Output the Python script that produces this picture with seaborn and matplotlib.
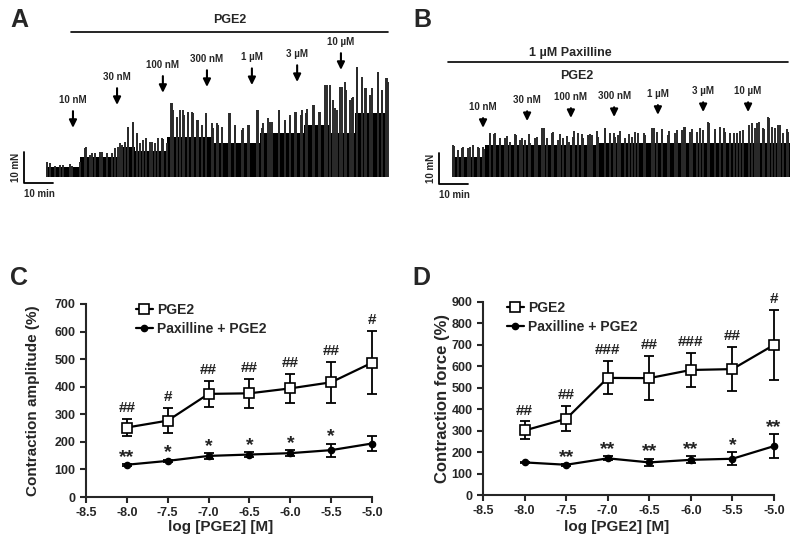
import numpy as np
import pandas as pd
import matplotlib
matplotlib.use("Agg")
import matplotlib.pyplot as plt
import seaborn as sns

# ---- data ----
doses = ["10 nM", "30 nM", "100 nM", "300 nM", "1 \u00b5M", "3 \u00b5M", "10 \u00b5M"]

# panel A trace (time in min, force in mN)
a_body_t = [0, 11.7, 25.5, 30.7, 41.6, 58, 73.8, 89, 98, 106.6, 118]
a_body_f = [2.7, 5.9, 9.1, 7.8, 12.4, 10.3, 13.5, 16, 13.5, 20, 20]
a_spike_t = [1.4, 4.8, 8.3, 11.7, 13.4, 15.7, 18.6, 20.9, 23.8, 25.5, 28.4, 30.1, 31.3,
             33.6, 36.4, 39.9, 41.6, 43.3, 45.1, 47.1, 49.1, 50.2, 52.5, 55.1, 57.7,
             59.4, 63.2, 65.2, 68.0, 70.1, 72.6, 74.9, 77.2, 80.5, 82.4, 84.1, 85.9,
             88.2, 89.7, 92.2, 94.3, 96.2, 97.9, 99.7, 101.4, 103.1, 104.8, 105.7,
             107.1, 108.9, 110.3, 112.3, 114.4, 115.7, 117.5,
             0.2, 3.1, 6.0, 8.9, 13.8, 15.2, 16.9, 19.2, 20.9, 22.7, 24.9, 26.1, 27.2,
             28.4, 29.9, 31.3, 32.4, 34.5, 35.9, 37.6, 38.7, 40.5, 41.6, 43.0, 43.9,
             45.1, 46.2, 47.6, 49.1, 50.6, 52.0, 53.7, 55.1, 57.1,
             58.9, 60.6, 63.4, 65.2, 67.5, 69.8, 73.0, 74.4, 76.4, 77.8, 80.3, 82.4,
             84.1, 86.2, 87.9, 89.9, 92.5, 94.5, 96.8, 97.9, 99.1, 100.2, 102.0, 103.3,
             105.4, 107.1, 108.9, 110.0, 111.7, 114.4, 115.8, 117.1, 117.8]
a_spike_f = [3.8, 3.2, 3.5, 4.3, 8.8, 7.0, 7.5, 7.0, 8.6, 10.4, 15.6, 17.2, 13.4,
             11.3, 10.8, 11.8, 10.2, 23.1, 18.8, 21.0, 19.9, 20.4, 17.7, 19.9, 15.1,
             16.1, 19.9, 15.6, 15.1, 16.1, 21.0, 16.7, 17.2, 21.0, 17.7, 19.4, 20.4,
             21.0, 19.9, 22.6, 20.4, 29.0, 24.2, 21.5, 28.3, 30.1, 24.2, 25.3,
             34.9, 30.6, 28.0, 28.0, 33.3, 27.4, 31.2,
             4.3, 2.9, 3.2, 2.9, 8.9, 6.5, 7.0, 7.5, 5.9, 7.0, 8.9, 9.7, 10.8,
             15.6, 16.9, 12.9, 10.2, 11.8, 10.8, 10.2, 11.8, 11.5, 7.0, 23.1, 21.0,
             18.3, 21.0, 19.4, 20.4, 19.9, 17.7, 16.1, 19.4, 16.7,
             16.7, 15.6, 19.9, 16.1, 14.5, 16.1, 21.0, 15.1, 18.3, 17.2, 21.0, 17.2,
             18.8, 20.4, 19.4, 21.2, 22.6, 20.4, 29.0, 29.0, 24.2, 21.0, 28.5, 27.4,
             24.7, 34.9, 31.7, 28.0, 25.8, 33.3, 27.4, 31.2, 30.1]
a_dose_t = [9.3, 24.5, 40.3, 55.5, 71.0, 86.6, 101.7]
a_dose_tip = [15.2, 22.6, 26.5, 28.4, 29.0, 30.0, 33.9]

# panel B trace
b_body_t = [0, 11.5, 50, 116.7]
b_body_f = [5.9, 9.6, 10.4, 10.4]
b_spike_t = [0.6, 3.4, 6.3, 9.2, 10.9, 13.0, 14.4, 16.7, 19.0, 21.8, 24.1, 26.4, 29.3,
             31.8, 34.5, 37.4, 39.7, 42.0, 44.8, 47.7, 50.0, 52.9, 55.7, 58.0, 60.9,
             63.2, 66.1, 69.5, 72.4, 74.7, 77.6, 80.1, 82.8, 85.6, 88.5, 90.8, 93.7,
             97.1, 99.4, 102.3, 105.2, 107.5, 109.2, 111.5, 113.2, 115.5,
             0.4, 2.2, 3.9, 5.6, 7.4, 9.1, 10.8, 13.1, 14.8, 16.6, 18.3, 20.0, 22.0,
             23.4, 25.2, 26.9, 28.6, 31.1, 32.6, 34.9, 36.7, 38.4, 40.3, 41.8, 43.6,
             45.3, 47.0, 48.4, 50.5, 52.8, 54.5, 56.2,
             57.4, 59.7, 62.0, 64.3, 66.6, 68.9, 70.6, 72.3, 74.6, 76.9, 79.2, 80.3,
             82.1, 84.4, 86.7, 88.4, 90.7, 92.4, 94.1, 95.9, 98.2, 100.4, 103.3, 104.5,
             105.9, 107.3, 108.9, 110.2, 112.5, 114.3, 116.0]
b_spike_f = [9.4, 8.8, 9.0, 8.8, 8.3, 13.7, 13.1, 12.0, 12.6, 13.1, 12.0, 13.1, 12.3,
             15.1, 13.7, 13.1, 12.6, 14.2, 13.1, 13.3, 14.2, 15.1, 13.7, 14.2, 13.3,
             14.0, 13.7, 15.3, 14.7, 14.2, 14.4, 15.5, 14.7, 15.3, 16.9, 14.7, 15.3,
             13.7, 14.2, 16.1, 16.9, 14.7, 18.3, 15.3, 16.1, 14.7,
             9.7, 8.1, 9.1, 8.6, 9.7, 9.1, 9.1, 12.9, 13.4, 10.8, 11.8, 10.8, 12.9,
             11.3, 11.3, 10.2, 11.8, 15.1, 11.8, 14.0, 11.3, 11.8, 10.8, 12.4, 13.4,
             11.8, 12.9, 12.9, 12.4, 15.1, 13.4, 12.4,
             12.9, 11.8, 12.4, 13.4, 12.9, 15.1, 14.0, 12.9, 12.9, 13.4, 14.5, 15.6,
             14.0, 14.0, 14.5, 17.2, 14.0, 15.6, 14.0, 13.4, 13.4, 14.5, 16.7, 15.1,
             17.2, 15.1, 18.8, 15.6, 16.1, 13.4, 14.0]
b_dose_t = [10.7, 25.9, 41.0, 55.9, 71.0, 86.6, 102.1]
b_dose_tip = [15.2, 17.4, 18.4, 18.7, 19.4, 20.3, 20.3]

# panels C / D
logc = [-8.0, -7.5, -7.0, -6.5, -6.0, -5.5, -5.0]
amp_pge2 = [252, 277, 374, 376, 394, 416, 487]
amp_pge2_err = [30, 46, 46, 53, 52, 75, 114]
amp_pax = [117, 131, 149, 154, 159, 170, 194]
amp_pax_err = [3, 5, 10, 8, 10, 24, 26]
amp_pge2_sig = ["##", "#", "##", "##", "##", "##", "#"]
amp_pax_sig = ["**", "*", "*", "*", "*", "*", ""]

force_pge2 = [301, 355, 546, 545, 583, 587, 700]
force_pge2_err = [42, 58, 77, 104, 81, 102, 163]
force_pax = [152, 141, 171, 152, 164, 169, 228]
force_pax_err = [3, 5, 10, 18, 17, 30, 56]
force_pge2_sig = ["##", "##", "###", "##", "###", "##", "#"]
force_pax_sig = ["", "**", "**", "**", "**", "*", "**"]

sns.set_style("ticks")
plt.rcParams["font.family"] = ["Liberation Sans", "DejaVu Sans"]
plt.rcParams["font.weight"] = "bold"
plt.rcParams["axes.labelweight"] = "bold"
plt.rcParams["axes.unicode_minus"] = False

W, H = 800, 537
fig = plt.figure(figsize=(8, 5.37), dpi=100)


def px_axes(x0, y0, x1, y1):
    return fig.add_axes([x0 / W, 1 - y1 / H, (x1 - x0) / W, (y1 - y0) / H])


def trace_panel(ax, x_start, body_t, body_f, spike_t, spike_f, dose_t, dose_tip, lab_off):
    # 2.9 px per min, 3.1 px per mN, baseline at y=175 px
    x0, x1 = ax.get_position().x0 * W, ax.get_position().x1 * W
    ax.set_xlim((x0 - x_start) / 2.9, (x1 - x_start) / 2.9)
    ax.set_ylim((175 - 200) / 3.1, 175 / 3.1)
    ax.axis("off")
    ax.vlines(spike_t, -0.6, spike_f, color="#2b2b2b", lw=1.4)
    ax.fill_between(body_t, -0.6, body_f, step="post", color="black", lw=0)
    for t, tip, d in zip(dose_t, dose_tip, doses):
        ax.annotate(d, xy=(t, tip), xytext=(0, lab_off), textcoords="offset points",
                    ha="center", va="center", fontsize=7,
                    arrowprops=dict(arrowstyle="-|>,head_width=0.22,head_length=0.45",
                                    color="black", lw=1.5, shrinkA=2, shrinkB=0,
                                    mutation_scale=10))


def scale_bar(ax, t0, f0):
    ax.plot([t0, t0, t0 + 10], [f0 + 10, f0, f0], color="black", lw=1.3, clip_on=False)
    ax.text(t0 - 2.7, f0 + 5, "10 mN", rotation=90, ha="center", va="center", fontsize=7)
    ax.text(t0, f0 - 1.8, "10 min", ha="left", va="top", fontsize=7)


# ---- A ----
axA = px_axes(0, 0, 400, 200)
trace_panel(axA, 46, a_body_t, a_body_f, a_spike_t, a_spike_f, a_dose_t, a_dose_tip, 20)
scale_bar(axA, -7.6, -2.6)
axA.plot([8.6, 117.9], [46.1, 46.1], color="black", lw=1.2)
axA.text(63.4, 50.0, "PGE2", ha="center", va="center", fontsize=9)

# ---- B ----
axB = px_axes(400, 0, 800, 200)
trace_panel(axB, 452, b_body_t, b_body_f, b_spike_t, b_spike_f, b_dose_t, b_dose_tip, 15)
scale_bar(axB, -4.5, -3.0)
axB.plot([-1.4, 115.9], [36.5, 36.5], color="black", lw=1.2)
axB.text(40.7, 39.4, "1 \u00b5M Paxilline", ha="center", va="center", fontsize=9)
axB.text(43.1, 31.9, "PGE2", ha="center", va="center", fontsize=9)


def dose_panel(ax, pge2, pge2_err, pax, pax_err, sig1, sig2, ymax, ylabel, ylab_size,
               leg_x, ylab_x, xlab_x, xlab_y):
    df = pd.DataFrame({"logc": logc * 2, "value": pge2 + pax,
                       "group": ["PGE2"] * 7 + ["Paxilline + PGE2"] * 7})
    ax.errorbar(logc, pge2, yerr=pge2_err, fmt="none", ecolor="black",
                elinewidth=1.3, capsize=3.5, capthick=1.3, zorder=2)
    ax.errorbar(logc, pax, yerr=pax_err, fmt="none", ecolor="black",
                elinewidth=1.3, capsize=3.5, capthick=1.3, zorder=2)
    sns.lineplot(data=df[df.group == "PGE2"], x="logc", y="value", ax=ax,
                 color="black", lw=1.6, marker="s", markersize=6.5,
                 markerfacecolor="white", markeredgecolor="black",
                 markeredgewidth=1.2, label="PGE2", zorder=3)
    sns.lineplot(data=df[df.group == "Paxilline + PGE2"], x="logc", y="value", ax=ax,
                 color="black", lw=1.6, marker="o", markersize=4.5,
                 markeredgecolor="black", markeredgewidth=1,
                 label="Paxilline + PGE2", zorder=3)
    for c in ax.get_children():
        if hasattr(c, "set_clip_on"):
            c.set_clip_on(False)
    for x, y, e, s in zip(logc, pge2, pge2_err, sig1):
        ax.annotate(s, xy=(x, y + e), xytext=(0, 5), textcoords="offset points",
                    ha="center", va="baseline", fontsize=11, color="#222222")
    for x, y, e, s in zip(logc, pax, pax_err, sig2):
        ax.annotate(s, xy=(x, y + e), xytext=(0, 1.5), textcoords="offset points",
                    ha="center", va="baseline", fontsize=14, color="#222222")
    ax.set_xlim(-8.5, -5.0)
    ax.set_ylim(0, ymax)
    ax.set_xticks(np.arange(-8.5, -4.99, 0.5))
    ax.set_xticklabels([f"{v:.1f}" for v in np.arange(-8.5, -4.99, 0.5)])
    ax.set_yticks(np.arange(0, ymax + 1, 100))
    sns.despine(ax=ax)
    for sp in ["left", "bottom"]:
        ax.spines[sp].set_linewidth(1.5)
    ax.tick_params(width=1.5, length=4, labelsize=9)
    ax.set_xlabel("log [PGE2] [M]", fontsize=11)
    ax.set_ylabel(ylabel, fontsize=ylab_size)
    ax.yaxis.set_label_coords(ylab_x, 0.5)
    ax.xaxis.set_label_coords(xlab_x, xlab_y)
    ax.legend(loc="upper left", bbox_to_anchor=(leg_x, 1.005), frameon=False,
              prop={"size": 10, "weight": "bold"}, handlelength=1.2,
              handletextpad=0.3, borderpad=0, borderaxespad=0, labelspacing=0.35)


axC = px_axes(86, 304, 372, 497)
dose_panel(axC, amp_pge2, amp_pge2_err, amp_pax, amp_pax_err, amp_pge2_sig,
           amp_pax_sig, 700, "Contraction amplitude (%)", 11, 0.175, -0.16, 0.472, -0.12)

axD = px_axes(483, 302, 774, 495)
dose_panel(axD, force_pge2, force_pge2_err, force_pax, force_pax_err, force_pge2_sig,
           force_pax_sig, 900, "Contraction force (%)", 12, 0.082, -0.113, 0.458, -0.13)

for x, y, s in [(10, 27, "A"), (413, 27, "B"), (10, 285, "C"), (412, 285, "D")]:
    fig.text(x / W, 1 - y / H, s, fontsize=18, fontweight="bold", va="baseline")

fig.savefig("out.png", dpi=100)
